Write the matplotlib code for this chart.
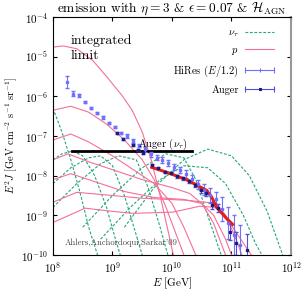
import numpy as np
import matplotlib
matplotlib.use("Agg")
import matplotlib.pyplot as plt
from matplotlib.lines import Line2D
from matplotlib.legend_handler import HandlerBase

plt.rcParams['font.family'] = 'serif'
plt.rcParams['font.serif'] = ['cmr10', 'DejaVu Serif']
plt.rcParams['mathtext.fontset'] = 'cm'
plt.rcParams['axes.formatter.use_mathtext'] = True

# ---- data (log10 E [GeV], log10 E^2 J) ----
p_curves = [
    ([8.0, 8.17, 8.4, 8.67, 8.9, 9.17, 9.33, 9.5, 9.65, 9.8, 9.95, 10.05],
     [-4.76, -4.73, -4.8, -5.1, -5.5, -6.0, -6.35, -6.9, -7.6, -8.5, -9.5, -10.2]),
    ([8.0, 8.3, 8.6, 8.9, 9.2, 9.5, 9.7, 9.9, 10.1, 10.25],
     [-6.35, -6.25, -6.4, -6.7, -7.1, -7.6, -8.1, -8.8, -9.6, -10.2]),
    ([8.0, 8.3, 8.6, 9.0, 9.4, 9.7, 10.0, 10.2, 10.4, 10.55],
     [-7.1, -6.95, -7.15, -7.5, -7.9, -8.2, -8.7, -9.3, -10.0, -10.3]),
    ([8.0, 8.25, 8.6, 9.0, 9.5, 10.0, 10.3, 10.5, 10.7, 10.85, 10.95],
     [-7.6, -7.45, -7.65, -7.85, -8.1, -8.3, -8.45, -8.7, -9.2, -9.8, -10.2]),
    ([8.0, 8.3, 8.7, 9.2, 9.7, 10.2, 10.5, 10.7, 10.9, 11.05],
     [-8.1, -7.95, -8.15, -8.4, -8.55, -8.6, -8.7, -9.0, -9.6, -10.2]),
    ([8.0, 8.4, 9.0, 9.5, 10.25, 10.75, 10.9, 11.05, 11.2],
     [-8.67, -8.42, -8.5, -8.57, -8.62, -8.70, -9.0, -9.5, -10.1]),
    ([8.0, 8.54, 9.0, 9.34, 10.01, 10.47, 10.75, 11.02, 11.2, 11.36],
     [-9.18, -8.82, -8.9, -8.95, -8.92, -8.77, -8.80, -9.3, -9.7, -10.06]),
]

nu_curves = [
    ([8.0, 8.15, 8.3, 8.45, 8.6, 8.77],
     [-6.3, -6.9, -7.6, -8.4, -9.3, -10.1]),
    ([8.0, 8.15, 8.33, 8.5, 8.7, 8.9, 9.05, 9.15],
     [-7.6, -7.45, -7.38, -7.5, -8.0, -8.8, -9.6, -10.1]),
    ([8.0, 8.3, 8.6, 8.8, 9.0, 9.2, 9.4, 9.52],
     [-8.2, -7.8, -7.55, -7.5, -7.75, -8.5, -9.5, -10.1]),
    ([8.0, 8.4, 8.8, 9.1, 9.4, 9.6, 9.8, 9.95],
     [-8.8, -8.2, -7.7, -7.5, -7.6, -8.3, -9.3, -10.1]),
    ([8.5, 9.0, 9.5, 9.9, 10.2, 10.4, 10.6, 10.85],
     [-9.3, -8.5, -7.8, -7.45, -7.55, -8.1, -9.0, -10.1]),
    ([8.8, 9.3, 9.8, 10.2, 10.6, 10.9, 11.2, 11.4, 11.55],
     [-9.6, -8.8, -8.1, -7.75, -7.8, -8.2, -9.0, -9.7, -10.1]),
    ([9.2, 9.7, 10.2, 10.6, 11.0, 11.3, 11.6, 11.86],
     [-9.3, -8.3, -7.6, -7.33, -7.5, -8.0, -8.9, -10.0]),
]

hires_logE = [8.24, 8.34, 8.44, 8.54, 8.64, 8.74, 8.84, 8.94, 9.04, 9.14, 9.24, 9.34,
              9.44, 9.54, 9.64, 9.74, 9.84, 9.94, 10.04, 10.14, 10.24, 10.34, 10.44,
              10.54, 10.64, 10.74, 10.84, 10.94, 11.04, 11.14]
hires_logF = [-5.64, -5.93, -5.97, -6.15, -6.30, -6.42, -6.53, -6.68, -6.78, -6.93, -7.00,
              -7.13, -7.24, -7.34, -7.46, -7.55, -7.60, -7.68, -7.78, -7.86, -7.97, -8.08,
              -8.22, -8.35, -8.50, -8.60, -8.85, -9.2, -9.5, -9.75]
hires_err = [0.15, 0.07, 0.04, 0.03, 0.03, 0.03, 0.03, 0.03, 0.03, 0.03, 0.04, 0.05,
             0.05, 0.06, 0.06, 0.06, 0.07, 0.07, 0.08, 0.08, 0.10, 0.10, 0.12, 0.15,
             0.18, 0.2, 0.3, 0.4, 0.5, 0.5]

auger_logE = [9.07, 9.17, 9.34, 9.43, 9.51, 9.66, 9.76, 9.88, 9.98, 10.08, 10.18, 10.28,
              10.38, 10.48, 10.58, 10.68, 10.77, 10.97, 11.07, 11.26]
auger_logF = [-6.93, -7.08, -7.23, -7.36, -7.43, -7.74, -7.81, -7.91, -7.94, -8.02, -8.07,
              -8.14, -8.24, -8.37, -8.44, -8.75, -8.82, -9.43, -9.71, -9.88]
auger_err = [0.03, 0.03, 0.03, 0.03, 0.03, 0.03, 0.03, 0.03, 0.03, 0.03, 0.04, 0.04,
             0.05, 0.06, 0.07, 0.08, 0.1, 0.2, 0.3, 0.4]

fit_logE = [9.66, 9.96, 10.27, 10.58, 10.67, 10.75, 10.92, 11.02]
fit_logF = [-7.79, -7.94, -8.12, -8.37, -8.55, -8.80, -9.08, -9.23]

limit_logE = [8.32, 10.33]
limit_logF = [-7.38, -7.38]

PINK = '#f47098'
GREEN = '#22a878'
BLUE = '#7070ff'
NAVY = '#1c1c78'
AUGER_ERR = '#5050dd'


class ErrHandler(HandlerBase):
    def __init__(self, lc, mc, marker, ms):
        super().__init__()
        self.lc, self.mc, self.marker, self.ms = lc, mc, marker, ms

    def create_artists(self, legend, orig_handle, xdescent, ydescent, width, height,
                       fontsize, trans):
        y = (height - ydescent) / 2
        x0, x1 = -xdescent, -xdescent + width
        line = Line2D([x0, x1], [y, y], color=self.lc, lw=0.8)
        caps = Line2D([x0, x1], [y, y], ls='', marker='|', ms=4, mew=0.8, color=self.lc)
        mid = Line2D([(x0 + x1) / 2], [y], ls='', marker=self.marker, ms=self.ms,
                     color=self.mc, mew=0.8)
        for a in (line, caps, mid):
            a.set_transform(trans)
        return [line, caps, mid]


fig = plt.figure(figsize=(3.02, 2.91), dpi=100)
ax = fig.add_axes([0.1755, 0.1237, 0.788, 0.818])

for lx, ly in nu_curves:
    ax.plot(10**np.array(lx), 10**np.array(ly), color=GREEN, lw=0.8, ls=(0, (2.5, 1.5)))
for lx, ly in p_curves:
    ax.plot(10**np.array(lx), 10**np.array(ly), color=PINK, lw=0.8)

ax.plot(10**np.array(limit_logE), 10**np.array(limit_logF), color='black', lw=2)
ax.text(10**9.43, 10**-7.27, r'Auger ($\nu_\tau$)', fontsize=7.5)


def err_pair(lf, e):
    lf = np.array(lf)
    e = np.array(e)
    f = 10**lf
    return [f - 10**(lf - e), 10**(lf + e) - f]


ax.errorbar(10**np.array(hires_logE), 10**np.array(hires_logF),
            yerr=err_pair(hires_logF, hires_err), fmt='s', ms=2, color=BLUE,
            ecolor=BLUE, elinewidth=0.8, capsize=1.5, mec=BLUE, mfc=BLUE)
ax.errorbar(10**np.array(auger_logE), 10**np.array(auger_logF),
            yerr=err_pair(auger_logF, auger_err), fmt='s', ms=2, color=NAVY,
            ecolor=AUGER_ERR, elinewidth=0.8, capsize=1.5, mec=NAVY, mfc=NAVY)
ax.plot(10**np.array(fit_logE), 10**np.array(fit_logF), color='#e02020', lw=2.2)

ax.set_xscale('log')
ax.set_yscale('log')
ax.set_xlim(1e8, 1e12)
ax.set_ylim(1e-10, 1e-4)
ax.set_xticks([1e8, 1e9, 1e10, 1e11, 1e12])
ax.set_yticks([1e-10, 1e-9, 1e-8, 1e-7, 1e-6, 1e-5, 1e-4])
ax.minorticks_off()
ax.tick_params(direction='in', which='both', top=True, right=True, labelsize=8, length=3)
ax.spines['right'].set_color('#999999')
ax.spines['right'].set_linewidth(1.5)
ax.set_xlabel(r'$E$ [GeV]', fontsize=8, labelpad=1)
ax.set_ylabel(r'$E^2J$ [GeV cm$^{-2}$ s$^{-1}$ sr$^{-1}$]', fontsize=7.5, labelpad=1)
ax.set_title(r'emission with $\eta = 3$ & $\epsilon = 0.07$ & $\mathcal{H}_{\rm AGN}$',
             fontsize=9.6, pad=3)

ax.text(0.075, 0.925, 'integrated\nlimit', transform=ax.transAxes, fontsize=10,
        va='top', ha='left', linespacing=1.3)
ax.text(0.05, 0.04, "Ahlers,Anchordoqui,Sarkar'09", transform=ax.transAxes,
        fontsize=6.2, color='#444444')

h_nu = Line2D([], [], color=GREEN, lw=0.8, ls=(0, (2.5, 1.5)))
h_p = Line2D([], [], color=PINK, lw=0.8)
h_hr = Line2D([], [], color=BLUE)
h_au = Line2D([], [], color=NAVY)
ax.legend([h_nu, h_p, h_hr, h_au],
          [r'$\nu_\tau$', r'$p$', r'HiRes ($E/1.2$)', 'Auger'],
          loc='upper right', bbox_to_anchor=(0.93, 0.955), frameon=False,
          borderaxespad=0, borderpad=0,
          markerfirst=False, fontsize=7.5, handlelength=2.8, labelspacing=0.62,
          handletextpad=0.6,
          handler_map={h_hr: ErrHandler(BLUE, BLUE, '|', 3),
                       h_au: ErrHandler(AUGER_ERR, NAVY, 's', 2)})

fig.savefig('out.png', dpi=100)
